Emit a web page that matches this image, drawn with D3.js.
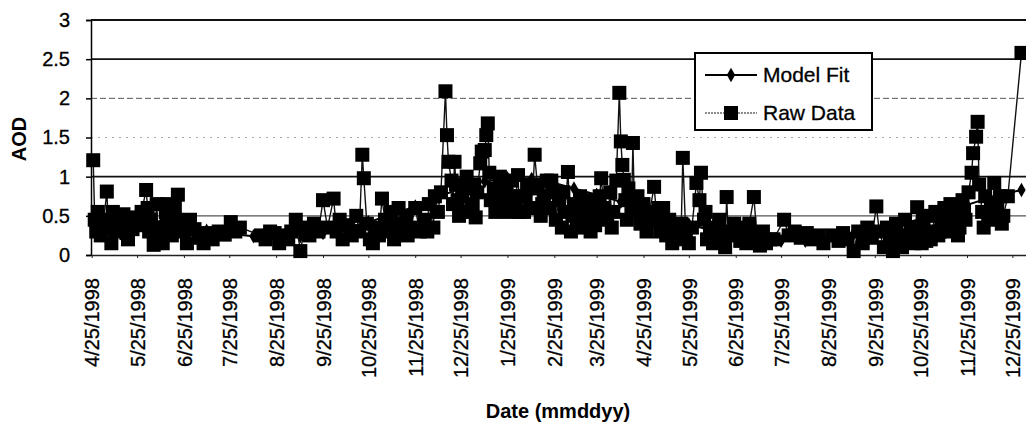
<!DOCTYPE html>
<html>
<head>
<meta charset="utf-8">
<script src="https://cdn.jsdelivr.net/npm/d3@7"></script>
<style>
  body { margin: 0; background: #fff; }
  text { font-family: "Liberation Sans", Arial, sans-serif; fill: #000; }
</style>
</head>
<body>
<svg id="chart" width="1026" height="425"></svg>
<script>

// Data

var xTickLabels = ["4/25/1998", "5/25/1998", "6/25/1998", "7/25/1998", "8/25/1998", "9/25/1998",
    "10/25/1998", "11/25/1998", "12/25/1998", "1/25/1999", "2/25/1999", "3/25/1999", "4/25/1999",
    "5/25/1999", "6/25/1999", "7/25/1999", "8/25/1999", "9/25/1999", "10/25/1999", "11/25/1999",
    "12/25/1999"];

var yTicks = [0, 0.5, 1, 1.5, 2, 2.5, 3];

var rawDates = [
    "4/26/1998", "4/27/1998", "4/28/1998", "4/29/1998", "5/1/1998", "5/3/1998", "5/5/1998", "5/6/1998",
    "5/8/1998", "5/10/1998", "5/12/1998", "5/14/1998", "5/16/1998", "5/18/1998", "5/20/1998", "5/22/1998",
    "5/24/1998", "5/26/1998", "5/28/1998", "5/31/1998", "6/1/1998", "6/3/1998", "6/5/1998", "6/7/1998",
    "6/9/1998", "6/11/1998", "6/13/1998", "6/15/1998", "6/17/1998", "6/19/1998", "6/21/1998", "6/23/1998",
    "6/25/1998", "6/27/1998", "6/29/1998", "7/2/1998", "7/5/1998", "7/8/1998", "7/11/1998", "7/14/1998",
    "7/18/1998", "7/22/1998",
    "7/26/1998", "7/29/1998", "8/1/1998", "8/15/1998", "8/18/1998", "8/21/1998", "8/24/1998", "8/27/1998",
    "8/30/1998", "9/2/1998", "9/4/1998", "9/7/1998", "9/10/1998", "9/13/1998", "9/16/1998", "9/19/1998",
    "9/22/1998", "9/25/1998", "9/28/1998", "10/2/1998", "10/4/1998", "10/6/1998", "10/8/1998", "10/11/1998",
    "10/14/1998", "10/17/1998", "10/19/1998",
    "10/21/1998", "10/22/1998", "10/24/1998", "10/26/1998", "10/28/1998", "10/30/1998", "11/1/1998", "11/3/1998",
    "11/5/1998", "11/7/1998", "11/9/1998", "11/11/1998", "11/13/1998", "11/16/1998", "11/19/1998", "11/22/1998",
    "11/25/1998", "11/28/1998", "12/1/1998", "12/4/1998", "12/7/1998", "12/10/1998", "12/12/1998", "12/15/1998",
    "12/16/1998", "12/17/1998", "12/19/1998", "12/20/1998", "12/21/1998", "12/22/1998", "12/24/1998", "12/26/1998",
    "12/28/1998", "12/30/1998", "1/2/1999", "1/4/1999", "1/5/1999", "1/7/1999", "1/8/1999", "1/10/1999",
    "1/11/1999", "1/12/1999", "1/13/1999", "1/14/1999",
    "1/16/1999", "1/18/1999", "1/20/1999", "1/22/1999", "1/24/1999", "1/26/1999", "1/28/1999", "1/30/1999",
    "2/1/1999", "2/3/1999", "2/5/1999", "2/7/1999", "2/9/1999", "2/12/1999", "2/14/1999", "2/16/1999",
    "2/18/1999", "2/20/1999", "2/22/1999", "2/24/1999", "2/26/1999", "2/28/1999", "3/2/1999", "3/4/1999",
    "3/6/1999", "3/8/1999", "3/10/1999", "3/12/1999", "3/14/1999", "3/16/1999", "3/18/1999", "3/20/1999",
    "3/22/1999", "3/24/1999", "3/26/1999", "3/28/1999",
    "3/30/1999", "4/1/1999", "4/3/1999", "4/5/1999", "4/7/1999", "4/9/1999", "4/10/1999", "4/11/1999",
    "4/12/1999", "4/13/1999", "4/15/1999", "4/17/1999", "4/18/1999", "4/19/1999", "4/21/1999", "4/23/1999",
    "4/25/1999", "4/27/1999", "4/29/1999", "5/2/1999", "5/4/1999", "5/6/1999", "5/8/1999", "5/10/1999",
    "5/12/1999", "5/14/1999", "5/16/1999", "5/18/1999", "5/20/1999", "5/21/1999", "5/23/1999", "5/25/1999",
    "5/27/1999", "5/30/1999", "6/1/1999", "6/2/1999", "6/4/1999", "6/6/1999", "6/8/1999", "6/10/1999",
    "6/12/1999", "6/14/1999", "6/16/1999", "6/18/1999", "6/19/1999", "6/20/1999", "6/22/1999", "6/24/1999",
    "6/26/1999", "6/28/1999", "6/30/1999", "7/2/1999", "7/4/1999", "7/7/1999", "7/9/1999", "7/11/1999",
    "7/13/1999", "7/15/1999", "7/18/1999", "7/20/1999", "7/27/1999", "7/30/1999", "8/3/1999", "8/7/1999",
    "8/11/1999", "8/15/1999", "8/19/1999", "8/22/1999", "8/28/1999", "9/1/1999", "9/4/1999", "9/7/1999",
    "9/11/1999", "9/14/1999", "9/17/1999", "9/20/1999", "9/23/1999", "9/26/1999", "9/28/1999",
    "10/1/1999", "10/3/1999", "10/5/1999", "10/7/1999", "10/9/1999", "10/11/1999", "10/13/1999", "10/15/1999",
    "10/17/1999", "10/19/1999", "10/21/1999", "10/23/1999", "10/25/1999", "10/27/1999", "10/29/1999", "10/31/1999",
    "11/2/1999", "11/4/1999", "11/6/1999", "11/8/1999", "11/10/1999", "11/12/1999", "11/14/1999", "11/16/1999",
    "11/18/1999", "11/20/1999", "11/22/1999", "11/24/1999", "11/26/1999", "11/28/1999", "11/29/1999", "12/1/1999",
    "12/2/1999", "12/3/1999", "12/5/1999", "12/7/1999", "12/9/1999", "12/11/1999", "12/13/1999", "12/15/1999",
    "12/17/1999", "12/19/1999", "12/22/1999", "12/31/1999",
    // extra readings inside the dense clusters
    "5/2/1998", "5/9/1998", "5/19/1998", "6/2/1998", "6/8/1998", "6/14/1998", "6/20/1998",
    "11/14/1998", "11/20/1998", "12/3/1998", "12/8/1998", "12/23/1998", "12/29/1998", "1/3/1999",
    "1/17/1999", "1/21/1999", "1/27/1999", "2/2/1999", "2/6/1999", "2/11/1999", "2/17/1999", "2/23/1999",
    "3/3/1999", "3/9/1999", "3/15/1999", "3/21/1999", "3/27/1999",
    "4/4/1999", "4/14/1999", "4/22/1999", "4/28/1999", "5/5/1999", "5/11/1999", "6/5/1999",
    "10/26/1999", "11/1/1999", "11/7/1999", "11/13/1999", "11/19/1999", "11/23/1999", "12/6/1999",
    "12/12/1999", "12/18/1999"
];

var rawValues = [
    1.21, 0.45, 0.30, 0.55, 0.25, 0.45, 0.81, 0.38,
    0.15, 0.30, 0.42, 0.35, 0.52, 0.28, 0.40, 0.33,
    0.48, 0.38, 0.55, 0.83, 0.60, 0.45, 0.13, 0.65,
    0.35, 0.15, 0.55, 0.42, 0.25, 0.60, 0.77, 0.38,
    0.30, 0.15, 0.45, 0.33, 0.22, 0.15, 0.28, 0.20,
    0.30, 0.26,
    0.42, 0.30, 0.35, 0.25, 0.20, 0.30, 0.28, 0.15,
    0.25, 0.20, 0.30, 0.45, 0.05, 0.35, 0.25, 0.40,
    0.30, 0.70, 0.35, 0.72, 0.30, 0.45, 0.20, 0.38,
    0.25, 0.50, 0.30,
    1.28, 0.98, 0.40, 0.20, 0.15, 0.35, 0.25, 0.72,
    0.45, 0.30, 0.55, 0.20, 0.40, 0.28, 0.50, 0.35,
    0.60, 0.30, 0.45, 0.65, 0.35, 0.55, 0.80, 2.09,
    1.53, 1.19, 0.95, 0.65, 1.19, 0.90, 0.50, 0.75,
    0.55, 0.85, 0.65, 0.48, 0.80, 1.17, 1.32, 1.34,
    1.53, 1.68, 1.05, 0.70,
    0.85, 0.60, 1.00, 0.70, 0.90, 0.55, 0.95, 0.65,
    1.02, 0.75, 0.55, 0.90, 0.60, 1.28, 0.85, 0.50,
    0.75, 0.95, 0.60, 0.80, 0.45, 0.70, 0.35, 0.55,
    1.06, 0.30, 0.65, 0.40, 0.75, 0.35, 0.60, 0.45,
    0.70, 0.38, 0.55, 0.98,
    0.60, 0.45, 0.80, 0.55, 0.95, 2.07, 1.45, 1.15,
    0.96, 0.70, 0.85, 0.55, 1.43, 0.60, 0.75, 0.40,
    0.65, 0.30, 0.55, 0.87, 0.45, 0.30, 0.60, 0.25,
    0.45, 0.15, 0.35, 0.20, 0.40, 1.24, 0.25, 0.15,
    0.35, 0.92, 0.70, 1.05, 0.45, 0.20, 0.35, 0.15,
    0.30, 0.45, 0.20, 0.10, 0.74, 0.30, 0.25, 0.40,
    0.35, 0.18, 0.30, 0.15, 0.40, 0.74, 0.25, 0.12,
    0.30, 0.15, 0.20, 0.20, 0.45, 0.25, 0.30, 0.22,
    0.28, 0.20, 0.25, 0.15, 0.25, 0.18, 0.28, 0.20,
    0.05, 0.30, 0.15, 0.35, 0.22, 0.62, 0.30,
    0.10, 0.35, 0.20, 0.05, 0.40, 0.25, 0.10, 0.45,
    0.20, 0.35, 0.15, 0.61, 0.30, 0.45, 0.18, 0.50,
    0.30, 0.55, 0.25, 0.45, 0.60, 0.30, 0.65, 0.40,
    0.55, 0.35, 0.70, 0.45, 0.80, 1.05, 1.30, 1.51,
    1.70, 0.90, 0.55, 0.75, 0.45, 0.65, 0.92, 0.60,
    0.75, 0.50, 0.75, 2.58,
    // extra readings inside the dense clusters
    0.35, 0.55, 0.20, 0.30, 0.25, 0.65, 0.45,
    0.60, 0.25, 0.30, 0.75, 0.70, 1.00, 0.90,
    0.55, 0.80, 0.75, 0.55, 0.75, 0.90, 0.65, 0.95,
    0.80, 0.50, 0.55, 0.30, 0.75,
    0.35, 0.45, 0.55, 0.45, 0.60, 0.35, 0.55,
    0.15, 0.20, 0.30, 0.45, 0.25, 0.55, 0.35,
    0.50, 0.40
];

var modelDates = [
    "4/26/1998", "5/10/1998", "5/25/1998", "6/10/1998", "6/25/1998", "7/10/1998", "7/25/1998", "8/10/1998",
    "8/25/1998", "9/10/1998", "9/25/1998", "10/10/1998", "10/25/1998", "11/10/1998", "11/25/1998", "12/10/1998",
    "12/25/1998", "1/10/1999", "1/25/1999", "2/10/1999", "2/25/1999", "3/10/1999", "3/25/1999", "4/10/1999",
    "4/25/1999", "5/10/1999", "5/25/1999", "6/10/1999", "6/25/1999", "7/10/1999", "7/25/1999", "8/10/1999",
    "8/25/1999", "9/10/1999", "9/25/1999", "10/10/1999", "10/25/1999", "11/10/1999", "11/25/1999", "12/10/1999",
    "12/31/1999"
];

var modelValues = [
    0.50, 0.47, 0.44, 0.40, 0.36, 0.31, 0.27, 0.24,
    0.23, 0.24, 0.28, 0.35, 0.42, 0.52, 0.62, 0.74,
    0.85, 0.94, 0.98, 0.97, 0.92, 0.85, 0.77, 0.68,
    0.58, 0.48, 0.39, 0.31, 0.25, 0.20, 0.18, 0.18,
    0.20, 0.24, 0.30, 0.38, 0.46, 0.56, 0.64, 0.73,
    0.83
];

// Chart geometry
var svg = d3.select("#chart");
var plotLeft = 91, plotRight = 1026, plotTop = 20, plotBottom = 255;

var parseDate = d3.timeParse("%m/%d/%Y");

// Pair dates with values and keep the raw series in time order
var rawData = rawDates.map(function (d, i) { return { date: parseDate(d), value: rawValues[i] }; })
    .sort(function (a, b) { return a.date - b.date; });
var modelData = modelDates.map(function (d, i) { return { date: parseDate(d), value: modelValues[i] }; });
var tickDates = xTickLabels.map(parseDate);

var x = d3.scaleTime()
    .domain([parseDate("4/25/1998"), parseDate("1/3/2000")])
    .range([plotLeft + 0.7, plotRight]);

var y = d3.scaleLinear()
    .domain([0, 3])
    .range([plotBottom, plotTop]);

// Gridlines (the scan makes some of them faint)
var gridStyle = {
    "0.5": { stroke: "#555", width: 1.2, dash: null },
    "1": { stroke: "#111", width: 1.6, dash: null },
    "1.5": { stroke: "#aaa", width: 1, dash: "2,5" },
    "2": { stroke: "#555", width: 1, dash: "6,3" },
    "2.5": { stroke: "#111", width: 1.6, dash: null },
    "3": { stroke: "#111", width: 2, dash: null }
};

svg.append("g")
    .selectAll("line")
    .data(yTicks.filter(function (d) { return d > 0; }))
    .enter().append("line")
    .attr("x1", plotLeft)
    .attr("x2", plotRight)
    .attr("y1", function (d) { return y(d); })
    .attr("y2", function (d) { return y(d); })
    .attr("stroke", function (d) { return gridStyle[String(d)].stroke; })
    .attr("stroke-width", function (d) { return gridStyle[String(d)].width; })
    .attr("stroke-dasharray", function (d) { return gridStyle[String(d)].dash; });

// Axes
var yAxis = d3.axisLeft(y)
    .tickValues(yTicks)
    .tickSize(5)
    .tickPadding(16)
    .tickFormat(d3.format(""));

svg.append("g")
    .attr("transform", "translate(" + plotLeft + ",0)")
    .call(yAxis)
    .call(function (g) {
        g.select(".domain").attr("stroke", "#000").attr("stroke-width", 1.5);
        g.selectAll(".tick line").attr("stroke", "#000").attr("stroke-width", 1.5);
        g.selectAll(".tick text")
            .attr("font-size", 20)
            .attr("font-family", "Liberation Sans, Arial, sans-serif")
            .attr("stroke", "#000")
            .attr("stroke-width", 0.3);
    });

var xAxis = d3.axisBottom(x)
    .tickValues(tickDates)
    .tickSize(3)
    .tickSizeOuter(0)
    .tickFormat(function (d, i) { return xTickLabels[i]; });

svg.append("g")
    .attr("transform", "translate(0," + plotBottom + ")")
    .call(xAxis)
    .call(function (g) {
        g.select(".domain").attr("stroke", "#222").attr("stroke-width", 1.5);
        g.selectAll(".tick line").attr("stroke", "#222");
        g.selectAll(".tick text")
            .attr("font-size", 20)
            .attr("font-family", "Liberation Sans, Arial, sans-serif")
            .attr("stroke", "#000")
            .attr("stroke-width", 0.3)
            .attr("transform", "rotate(-90)")
            .attr("text-anchor", "end")
            .attr("x", -23)
            .attr("y", 0)
            .attr("dy", "0.36em");
    });

// Model Fit series
var line = d3.line()
    .x(function (d) { return x(d.date); })
    .y(function (d) { return y(d.value); });

svg.append("path")
    .datum(modelData)
    .attr("fill", "none")
    .attr("stroke", "#000")
    .attr("stroke-width", 2)
    .attr("d", line);

var diamond = d3.symbol().type(d3.symbolDiamond).size(60);

svg.append("g")
    .selectAll("path")
    .data(modelData)
    .enter().append("path")
    .attr("d", diamond)
    .attr("transform", function (d) { return "translate(" + x(d.date) + "," + y(d.value) + ")"; })
    .attr("fill", "#000");

// Raw Data series
svg.append("path")
    .datum(rawData)
    .attr("fill", "none")
    .attr("stroke", "#111")
    .attr("stroke-width", 1.4)
    .attr("d", line);

var sq = 14;
svg.append("g")
    .selectAll("rect")
    .data(rawData)
    .enter().append("rect")
    .attr("x", function (d) { return x(d.date) - sq / 2; })
    .attr("y", function (d) { return y(d.value) - sq / 2; })
    .attr("width", sq)
    .attr("height", sq)
    .attr("fill", "#000");

// Legend
var legend = svg.append("g").attr("transform", "translate(695,53)");

legend.append("rect")
    .attr("width", 177)
    .attr("height", 77)
    .attr("fill", "#fff")
    .attr("stroke", "#000")
    .attr("stroke-width", 2);

legend.append("line")
    .attr("x1", 10).attr("x2", 62).attr("y1", 22).attr("y2", 22)
    .attr("stroke", "#000").attr("stroke-width", 2);
legend.append("path")
    .attr("d", diamond)
    .attr("transform", "translate(36,22)")
    .attr("fill", "#000");
legend.append("text")
    .attr("x", 68).attr("y", 29)
    .attr("font-size", 21)
    .attr("stroke", "#000")
    .attr("stroke-width", 0.3)
    .text("Model Fit");

legend.append("line")
    .attr("x1", 10).attr("x2", 62).attr("y1", 60).attr("y2", 60)
    .attr("stroke", "#666").attr("stroke-width", 1.5).attr("stroke-dasharray", "2,1");
legend.append("rect")
    .attr("x", 36 - sq / 2).attr("y", 60 - sq / 2)
    .attr("width", sq).attr("height", sq)
    .attr("fill", "#000");
legend.append("text")
    .attr("x", 68).attr("y", 67)
    .attr("font-size", 21)
    .attr("stroke", "#000")
    .attr("stroke-width", 0.3)
    .text("Raw Data");

// Axis titles
svg.append("text")
    .attr("transform", "translate(26,139) rotate(-90)")
    .attr("text-anchor", "middle")
    .attr("font-size", 20)
    .attr("font-weight", "bold")
    .text("AOD");

svg.append("text")
    .attr("x", 558)
    .attr("y", 418)
    .attr("text-anchor", "middle")
    .attr("font-size", 20)
    .attr("font-weight", "bold")
    .text("Date (mmddyy)");

</script>
</body>
</html>
